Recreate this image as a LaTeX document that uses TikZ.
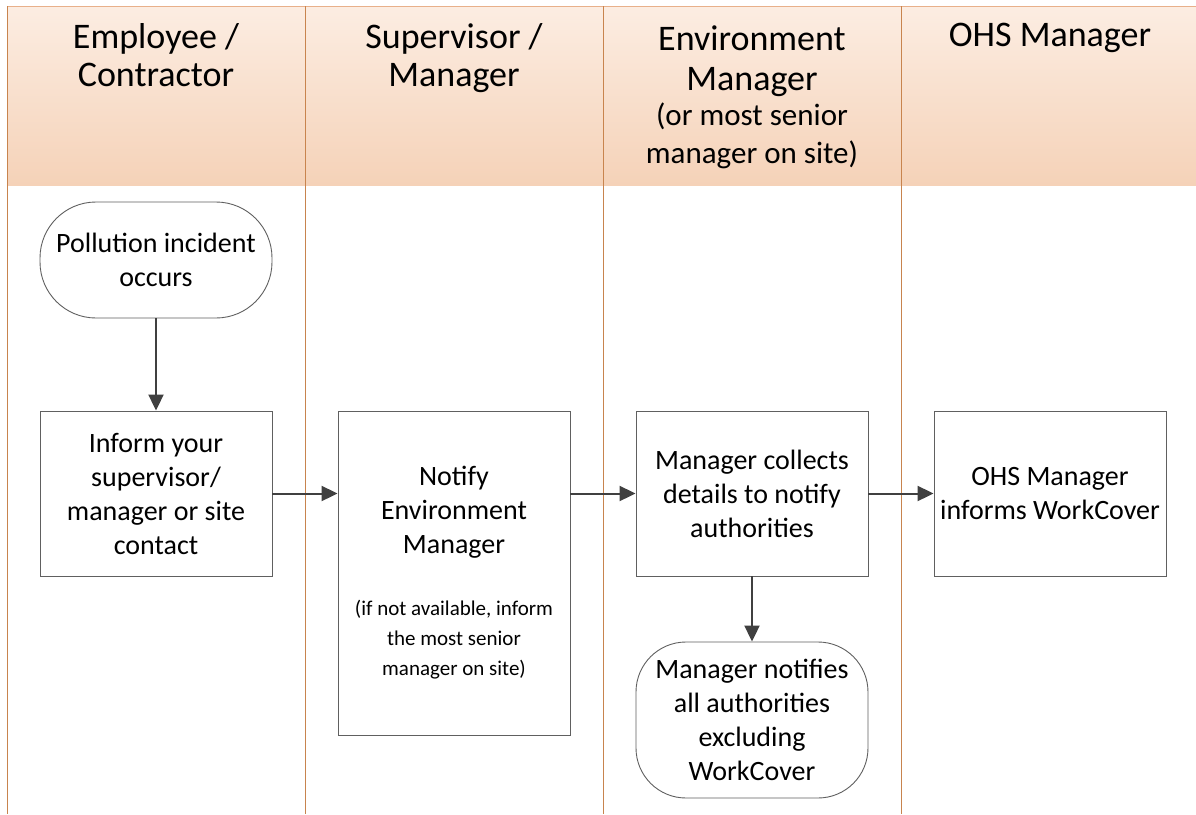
\documentclass[tikz,border=0pt]{standalone}
\usepackage{fontspec}
\setmainfont{Carlito}
\usetikzlibrary{arrows.meta}
\definecolor{hdtop}{HTML}{FCEDE2}
\definecolor{hdbot}{HTML}{F5D2B8}
\definecolor{lane}{HTML}{C8844E}
\definecolor{hdline}{HTML}{E8B08A}
\definecolor{boxline}{HTML}{606060}
\definecolor{arr}{HTML}{404040}
\begin{document}
\begin{tikzpicture}[x=1pt,y=-1pt,
  procbox/.style={draw=boxline, line width=0.9pt, fill=white, minimum width=232pt, align=center, font=\fontsize{28}{34}\selectfont, inner sep=0pt},
  termbox/.style={procbox, rounded corners=50pt},
  flow/.style={draw=arr, line width=2pt, -{Triangle[length=16pt,width=15pt]}},
  hdtext/.style={align=center, font=\fontsize{36}{38}\selectfont, anchor=base}
]
\useasboundingbox (0,0) rectangle (1196,814);
\fill[white] (0,0) rectangle (1196,814);
% header
\shade[top color=hdtop, bottom color=hdbot] (7,6) rectangle (1196,185);
\draw[hdline, line width=1pt] (7,6) -- (1196,6);
% lane lines
\foreach \x in {7,305,603,901} {
  \draw[lane, line width=0.8pt] (\x,6) -- (\x,814);
}
% header texts (base anchor = baseline of the last line)
\node[hdtext] (h1) at (156,86) {Employee /\\Contractor};
\node[hdtext] (h2) at (454,86) {Supervisor /\\Manager};
\node[hdtext] (h3) at (752,163) {Environment\\[2pt]Manager\\[-3pt]{\fontsize{31}{38}\selectfont (or most senior}\\{\fontsize{31}{38}\selectfont manager on site)}};
\node[hdtext] (h4) at (1050,46) {OHS Manager};
% nodes
\node[termbox, rounded corners=56pt, minimum height=116pt] (start) at (156,260) {Pollution incident\\occurs};
\node[procbox, minimum height=165pt] (inform) at (156,493.5) {Inform your\\supervisor/\\manager or site\\contact};
\node[procbox, minimum height=324pt] (notify) at (454,573) {};
\node[align=center, font=\fontsize{28}{34}\selectfont] (notifyt) at (454,512) {Notify\\Environment\\Manager};
\node[align=center, font=\fontsize{21}{30}\selectfont] (notifys) at (454,640) {(if not available, inform\\the most senior\\manager on site)};
\node[procbox, minimum height=165pt] (collect) at (752,493.5) {Manager collects\\details to notify\\authorities};
\node[termbox, minimum height=156pt] (notall) at (752,720) {Manager notifies\\all authorities\\excluding\\WorkCover};
\node[procbox, minimum height=165pt] (ohs) at (1050,493.5) {OHS Manager\\informs WorkCover};
% connectors
\draw[flow] (start) -- (inform);
\draw[flow] (inform.east) -- (inform.east -| notify.west);
\draw[flow] (notify.east |- collect.west) -- (collect.west);
\draw[flow] (collect) -- (ohs);
\draw[flow] (collect) -- (notall);
\end{tikzpicture}
\end{document}
